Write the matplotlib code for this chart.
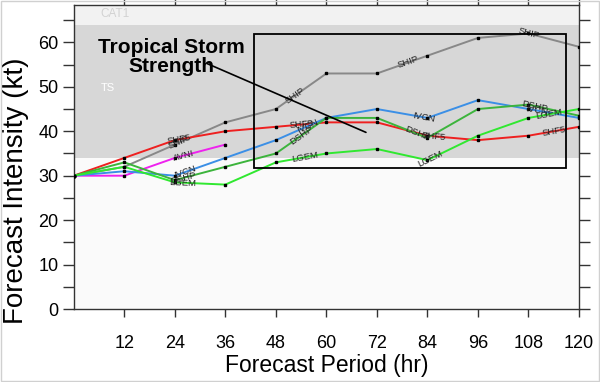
import numpy as np
import matplotlib

matplotlib.use("Agg")
import matplotlib.pyplot as plt  # noqa: E402
from matplotlib.patches import Rectangle  # noqa: E402
from matplotlib.ticker import MultipleLocator  # noqa: E402

plt.rcParams["font.family"] = ["Liberation Sans", "DejaVu Sans"]

# forecast hours and model intensities (kt)
HOURS = [0, 12, 24, 36, 48, 60, 72, 84, 96, 108, 120]
SHIP = [30, 32, 37, 42, 45, 53, 53, 57, 61, 62, 59]
SHF5 = [30, 34, 38, 40, 41, 42, 42, 39, 38, 39, 41]
IVCN = [30, 31, 30, 34, 38, 43, 45, 43, 47, 45, 43]
DSHP = [30, 33, 29, 32, 35, 43, 43, 38.5, 45, 46, 43.5]
LGEM = [30, 32, 28.5, 28, 33, 35, 36, 33.5, 39, 43, 45]
AVNI_HOURS = [0, 12, 24, 36]
AVNI = [30, 30, 34, 37]

X_TICKS = [12, 24, 36, 48, 60, 72, 84, 96, 108, 120]
Y_TICKS = [0, 10, 20, 30, 40, 50, 60]
TS_LOW, TS_HIGH = 34, 64

# (name, hours, values, colour, hours where the line label sits)
SERIES = [
    ("SHIP", HOURS, SHIP, "#888888", [25, 52.5, 79.5, 108]),
    ("SHF5", HOURS, SHF5, "#ee2020", [25, 54, 85.5, 114]),
    ("AVNI", AVNI_HOURS, AVNI, "#ee22ee", [26]),
    ("IVCN", HOURS, IVCN, "#3b8fe6", [26.5, 55.5, 83, 110]),
    ("DSHP", HOURS, DSHP, "#3cb43c", [26, 54, 81.5, 109.5]),
    ("LGEM", HOURS, LGEM, "#30e830", [26, 55, 84.7, 113]),
]

fig = plt.figure(figsize=(6.0, 3.82), dpi=100)
fig.patch.set_facecolor("white")
ax = fig.add_axes([0.123, 0.191, 0.842, 0.797])
ax.set_facecolor("#fafafa")
ax.set_xlim(0, 120)
ax.set_ylim(0, 68.5)

# intensity bands
ax.axhspan(TS_LOW, TS_HIGH, color="#d7d7d7", zorder=0, lw=0)
ax.axhspan(TS_HIGH, 68.5, color="#f2f2f2", zorder=0, lw=0)
ax.text(9.7, 66.3, "CAT1", color="#d2d2d2", fontsize=8.5, ha="center", va="center")
ax.text(8, 49.7, "TS", color="white", fontsize=8, ha="center", va="center")

for name, hrs, vals, color, lab_hours in SERIES:
    ax.plot(hrs, vals, color=color, lw=1.4, zorder=3)
    ax.plot(hrs, vals, ls="none", marker="s", ms=1.5, color="black", zorder=4)

fig.canvas.draw()
for name, hrs, vals, color, lab_hours in SERIES:
    pts = ax.transData.transform(np.column_stack([hrs, vals]))
    for h in lab_hours:
        i = min(np.searchsorted(hrs, h, side="right") - 1, len(hrs) - 2)
        dx, dy = pts[i + 1] - pts[i]
        ang = np.degrees(np.arctan2(dy, dx))
        ax.text(h, np.interp(h, hrs, vals), name, fontsize=6.8, color="#222222",
                rotation=ang, rotation_mode="anchor", ha="center", va="center",
                zorder=5)

ax.add_patch(Rectangle((42.8, 31.7), 116.9 - 42.8, 61.8 - 31.7, fill=False,
                       edgecolor="black", lw=1.3, zorder=6))
ax.annotate("", xy=(70, 39.5), xytext=(31, 55.5),
            arrowprops=dict(arrowstyle="-", color="black", lw=1.2), zorder=6)
ax.text(23.2, 56.8, "Tropical Storm\nStrength", fontsize=15, fontweight="bold",
        ha="center", va="center", linespacing=1.0, zorder=7)

ax.set_xticks(X_TICKS)
ax.set_yticks(Y_TICKS)
ax.yaxis.set_minor_locator(MultipleLocator(5))
ax.tick_params(axis="both", which="both", direction="out", top=True, right=True,
               labeltop=False, labelright=False, labelsize=13, width=1.0,
               color="#333333", pad=3)
ax.tick_params(axis="x", which="major", length=6)
ax.tick_params(axis="y", which="major", length=8)
ax.tick_params(axis="y", which="minor", length=8, width=1.0)
ax.tick_params(axis="x", which="major", pad=13)
for sp in ax.spines.values():
    sp.set_color("#333333")
    sp.set_linewidth(1.0)

ax.set_xlabel("Forecast Period (hr)", fontsize=16.5, labelpad=1)
ax.set_ylabel("Forecast Intensity (kt)", fontsize=20)
ax.yaxis.set_label_coords(-0.088, 0.39)

fig.patches.append(Rectangle((0.002, 0.002), 0.996, 0.996, transform=fig.transFigure,
                             fill=False, edgecolor="#d0d0d0", lw=1.0))

fig.savefig("out.png", dpi=100)
